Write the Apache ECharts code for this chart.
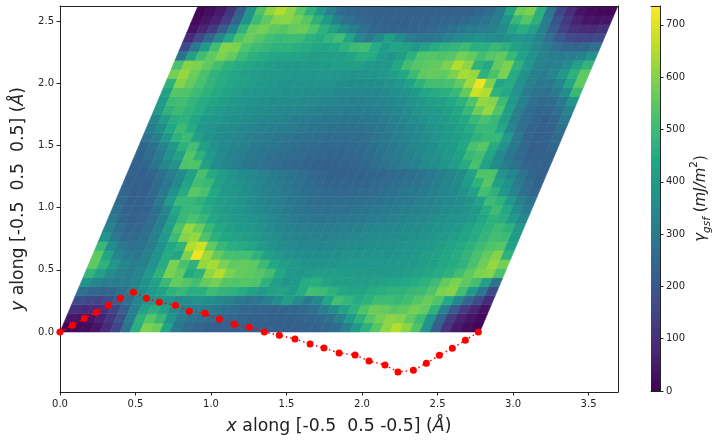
<!DOCTYPE html>
<html><head><meta charset="utf-8">
<style>html,body{margin:0;padding:0;background:#fff}#c{width:720px;height:445px}</style>
<script src="https://cdn.jsdelivr.net/npm/echarts@6/dist/echarts.min.js"></script>
</head><body><div id="c"></div>
<script>
// gamma_gsf energy; rows run along the first lattice vector, bottom row first
const r00=[10,15,20,40,90,150,280,460,590,570,430,300,260,235,225,220,220,225,225,225,225,225,222,225,228,232,240,262,320,390,470,540,610,650,610,530,380,220,110,50,25,10];
const r01=[40,35,40,70,120,190,310,470,540,490,380,310,280,265,255,245,240,235,232,230,228,228,230,232,240,255,275,320,400,470,540,580,610,600,550,500,380,240,130,70,40,15];
const r02=[100,85,85,105,150,220,320,420,460,420,350,320,310,305,295,275,260,250,240,235,230,235,240,250,270,310,360,420,470,530,570,560,540,550,580,560,470,320,210,125,75,35];
const r03=[170,155,150,170,210,270,330,370,385,370,350,360,370,360,345,325,300,285,285,310,360,410,350,300,340,430,510,480,450,470,500,500,490,510,540,565,530,440,340,240,165,90];
const r04=[270,245,235,245,270,310,350,390,420,470,490,460,460,500,480,470,450,420,390,420,430,400,450,510,500,470,440,430,430,450,460,470,470,490,500,530,590,600,510,400,290,170];
const r05=[370,330,310,305,310,330,370,420,490,560,540,510,560,580,540,530,540,530,470,410,380,400,450,460,430,410,410,405,410,420,425,430,440,450,470,500,560,590,550,510,420,280];
const r06=[480,420,360,325,315,330,390,470,590,560,440,470,610,650,590,560,550,540,510,440,390,385,395,410,410,405,400,400,395,395,395,400,410,420,435,450,470,510,550,590,600,520];
const r07=[550,470,390,335,310,320,370,450,590,520,470,620,640,590,550,560,550,500,440,410,390,380,375,375,380,385,385,385,385,385,385,390,395,405,420,435,450,475,520,570,620,580];
const r08=[550,430,340,300,295,320,370,450,430,590,715,630,560,520,510,510,470,420,390,375,365,360,360,360,365,370,375,375,375,375,380,385,395,405,420,435,455,480,520,560,600,470];
const r09=[490,360,300,270,280,310,370,440,470,650,680,560,490,460,450,430,400,375,360,350,340,335,335,340,345,355,360,365,365,365,370,375,385,395,410,425,445,470,500,530,540,420];
const r10=[380,300,260,255,275,320,390,500,600,620,530,470,440,420,410,395,375,355,340,330,325,320,320,325,330,340,345,350,355,355,360,365,370,385,395,410,430,450,480,510,500,400];
const r11=[330,265,240,240,265,320,410,530,620,570,490,440,415,400,390,375,355,340,325,315,310,305,305,310,315,320,330,335,340,345,350,355,365,375,385,400,420,450,475,500,470,390];
const r12=[300,245,225,235,265,320,410,490,520,490,440,415,400,385,370,355,335,320,305,295,290,285,285,290,295,300,310,315,325,330,340,345,355,365,375,385,400,430,470,460,400,340];
const r13=[270,230,220,235,270,340,440,490,490,450,420,400,385,370,350,335,320,305,290,280,270,270,270,275,280,285,290,300,305,315,320,330,340,350,360,370,395,450,500,440,360,305];
const r14=[255,225,220,240,300,400,490,490,470,430,405,395,380,360,340,325,310,295,280,268,260,258,258,260,265,270,278,285,295,300,310,320,335,345,360,375,420,500,470,390,320,280];
const r15=[240,220,220,250,300,370,450,545,520,440,400,385,365,345,330,315,300,285,272,260,252,248,248,250,255,260,268,275,285,295,305,320,335,345,375,420,510,470,390,330,275,240];
const r16=[232,222,225,255,295,345,430,510,490,420,390,375,355,335,320,305,290,275,262,250,243,238,238,240,245,252,258,265,275,285,298,315,330,350,400,470,540,420,370,305,260,232];
const r17=[232,228,240,270,310,360,420,520,450,405,380,360,345,325,310,295,280,265,250,240,233,230,230,232,238,245,252,260,270,282,295,315,335,360,420,530,530,380,340,285,245,228];
const r18=[228,245,285,340,380,530,530,420,360,335,315,295,282,270,260,252,245,238,232,230,230,233,240,250,265,280,295,310,325,345,360,380,405,450,520,420,360,310,270,240,228,232];
const r19=[232,260,305,370,420,540,470,400,350,330,315,298,285,275,265,258,252,245,240,238,238,243,250,262,275,290,305,320,335,355,375,390,420,490,510,430,345,295,255,225,222,232];
const r20=[240,275,330,390,470,510,420,375,345,335,320,305,295,285,275,268,260,255,250,248,248,252,260,272,285,300,315,330,345,365,385,400,440,520,545,450,370,300,250,220,220,240];
const r21=[280,320,390,470,500,420,375,360,345,335,320,310,300,295,285,278,270,265,260,258,258,260,268,280,295,310,325,340,360,380,395,405,430,470,490,490,400,300,240,220,225,255];
const r22=[305,360,440,500,450,395,370,360,350,340,330,320,315,305,300,290,285,280,275,270,270,270,280,290,305,320,335,350,370,385,400,420,450,490,490,440,340,270,235,220,230,270];
const r23=[340,400,460,470,430,400,385,375,365,355,345,340,330,325,315,310,300,295,290,285,285,290,295,305,320,335,355,370,385,400,415,440,490,520,490,410,320,265,235,225,245,300];
const r24=[390,470,500,475,450,420,400,385,375,365,355,350,345,340,335,330,320,315,310,305,305,310,315,325,340,355,375,390,400,415,440,490,570,620,530,410,320,265,240,240,265,330];
const r25=[400,500,510,480,450,430,410,395,385,370,365,360,355,355,350,345,340,330,325,320,320,325,330,340,355,375,395,410,420,440,470,530,620,600,500,390,320,275,255,260,300,380];
const r26=[420,540,530,500,470,445,425,410,395,385,375,370,365,365,365,360,355,345,340,335,335,340,350,360,375,400,430,450,460,490,560,680,650,470,440,370,310,280,270,300,360,490];
const r27=[470,600,560,520,480,455,435,420,405,395,385,380,375,375,375,375,370,365,360,360,360,365,375,390,420,470,510,510,520,560,630,715,590,430,450,370,320,295,300,340,430,550];
const r28=[580,620,570,520,475,450,435,420,405,395,390,385,385,385,385,385,385,380,375,375,380,390,410,440,500,550,560,550,590,640,620,470,520,590,450,370,320,310,335,390,470,550];
const r29=[520,600,590,550,510,470,450,435,420,410,400,395,395,395,400,400,405,410,410,395,385,390,440,510,540,550,560,590,650,610,470,440,560,590,470,390,330,315,325,360,420,480];
const r30=[280,420,510,550,590,560,500,470,450,440,430,425,420,410,405,410,410,430,460,450,400,380,410,470,530,540,530,540,580,560,510,540,560,490,420,370,330,310,305,310,330,370];
const r31=[170,290,400,510,600,590,530,500,490,470,470,460,450,430,430,440,470,500,510,450,400,430,420,390,420,450,470,480,500,460,460,490,470,420,390,350,310,270,245,235,245,270];
const r32=[90,165,240,340,440,530,565,540,510,490,500,500,470,450,480,510,430,340,300,350,410,360,310,285,285,300,325,345,360,370,360,350,370,385,370,330,270,210,170,150,155,170];
const r33=[35,75,125,210,320,470,560,580,550,540,560,570,530,470,420,360,310,270,250,240,235,230,235,240,250,260,275,295,305,310,320,350,420,460,420,320,220,150,105,85,85,100];
const r34=[15,40,70,130,240,380,500,550,600,610,580,540,470,400,320,275,255,240,232,230,228,228,230,232,235,240,245,255,265,280,310,380,490,540,470,310,190,120,70,40,35,40];
const r35=[10,25,50,110,220,380,530,610,650,610,540,470,390,320,262,240,232,228,225,222,225,225,225,225,225,220,220,225,235,260,300,430,570,590,460,280,150,90,40,20,15,10];
const rows=[r00,r01,r02,r03,r04,r05,r06,r07,r08,r09,r10,r11,r12,r13,r14,r15,r16,r17,r18,r19,r20,r21,r22,r23,r24,r25,r26,r27,r28,r29,r30,r31,r32,r33,r34,r35];

// lattice vectors of the sheared cell, in Angstrom
const vecA=[2.78,0];
const vecB=[0.914,2.623];

// minimum energy path
const pathX=[0,.082,.161,.24,.32,.40,.486,.572,.658,.764,.856,.962,1.055,1.154,1.254,1.353,1.452,1.556,1.656,1.748,1.848,1.954,2.046,2.152,2.238,2.34,2.426,2.512,2.598,2.684,2.77];
const pathY=[0,.054,.11,.158,.215,.271,.319,.271,.239,.215,.167,.15,.102,.062,.038,0,-.027,-.056,-.097,-.129,-.169,-.185,-.233,-.265,-.322,-.308,-.252,-.187,-.131,-.067,0];

const xTicks=[0,0.5,1,1.5,2,2.5,3,3.5];
const yTicks=[0,0.5,1,1.5,2,2.5];
const cbarTicks=[0,100,200,300,400,500,600,700];
const cbarMax=736;
const viridis=['#440154','#482576','#414487','#355f8d','#2a788e','#21918c','#22a884','#44bf70','#7ad151','#bddf26','#fde725'];

const cellData=[];
rows.forEach((r,j)=>r.forEach((val,i)=>cellData.push([i,j,val])));
const pathData=pathX.map((x,k)=>[x,pathY[k]]);

const FF='DejaVu Sans', TXT='#222', AX={color:TXT,width:1};
function corner(api,u,v){
  const nu=rows[0].length,nv=rows.length;
  return api.coord([vecA[0]*u/nu+vecB[0]*v/nv, vecA[1]*u/nu+vecB[1]*v/nv]);
}
const chart=echarts.init(document.getElementById('c'),null,{renderer:'canvas'});
chart.setOption({
  animation:false,
  backgroundColor:'#fff',
  textStyle:{fontFamily:FF},
  grid:[
    {left:60,top:6,width:558,height:386},
    {left:651,top:6,width:9,height:385}
  ],
  visualMap:{show:false,type:'continuous',min:0,max:cbarMax,seriesIndex:0,dimension:2,inRange:{color:viridis}},
  xAxis:[
    {type:'value',gridIndex:0,min:0,max:3.695,position:'bottom',z:10,
     axisLine:{show:true,onZero:false,lineStyle:AX},
     axisTick:{show:true,length:3.5,lineStyle:AX,customValues:xTicks},
     axisLabel:{fontSize:10,color:TXT,fontFamily:FF,margin:7,customValues:xTicks,formatter:v=>v.toFixed(1),showMinLabel:true,showMaxLabel:true},
     splitLine:{show:false},
     nameLocation:'middle',nameGap:26,
     name:'{i|x} along [-0.5  0.5 -0.5] ({i|Å})',
     nameTextStyle:{fontSize:17.3,color:TXT,fontFamily:FF,rich:{i:{fontSize:17.3,fontStyle:'italic',color:TXT,fontFamily:FF}}}},
    {type:'value',gridIndex:0,min:0,max:3.695,position:'top',z:10,
     axisLine:{show:true,onZero:false,lineStyle:AX},axisTick:{show:false},axisLabel:{show:false},splitLine:{show:false}},
    {type:'value',gridIndex:1,min:0,max:1,position:'bottom',z:10,
     axisLine:{show:true,onZero:false,lineStyle:AX},axisTick:{show:false},axisLabel:{show:false},splitLine:{show:false}},
    {type:'value',gridIndex:1,min:0,max:1,position:'top',z:10,
     axisLine:{show:true,onZero:false,lineStyle:AX},axisTick:{show:false},axisLabel:{show:false},splitLine:{show:false}}
  ],
  yAxis:[
    {type:'value',gridIndex:0,min:-0.483,max:2.623,position:'left',z:10,
     axisLine:{show:true,onZero:false,lineStyle:AX},
     axisTick:{show:true,length:3.5,lineStyle:AX,customValues:yTicks},
     axisLabel:{fontSize:10,color:TXT,fontFamily:FF,margin:6,customValues:yTicks,formatter:v=>v.toFixed(1)},
     splitLine:{show:false},
     nameLocation:'middle',nameGap:25,nameRotate:90,
     name:'{i|y} along [-0.5  0.5  0.5] ({i|Å})',
     nameTextStyle:{fontSize:17.3,color:TXT,fontFamily:FF,rich:{i:{fontSize:17.3,fontStyle:'italic',color:TXT,fontFamily:FF}}}},
    {type:'value',gridIndex:0,min:-0.483,max:2.623,position:'right',z:10,
     axisLine:{show:true,onZero:false,lineStyle:AX},axisTick:{show:false},axisLabel:{show:false},splitLine:{show:false}},
    {type:'value',gridIndex:1,min:0,max:cbarMax,position:'right',z:10,
     axisLine:{show:true,onZero:false,lineStyle:AX},
     axisTick:{show:true,length:3.5,lineStyle:AX,customValues:cbarTicks},
     axisLabel:{fontSize:10,color:TXT,fontFamily:FF,margin:6,customValues:cbarTicks},
     splitLine:{show:false},
     nameLocation:'middle',nameGap:29,nameRotate:90,
     name:'{g|γ}{s|gsf}{n| (}{g|mJ/m}{p|2}{n|)}',
     nameTextStyle:{fontSize:15,color:TXT,fontFamily:FF,rich:{
       g:{fontSize:15,lineHeight:24,fontStyle:'italic',color:TXT,fontFamily:FF},
       s:{fontSize:10.5,lineHeight:12,fontStyle:'italic',color:TXT,fontFamily:FF,verticalAlign:'bottom'},
       n:{fontSize:15,lineHeight:24,color:TXT,fontFamily:FF},
       p:{fontSize:10.5,lineHeight:12,color:TXT,fontFamily:FF,verticalAlign:'top'}
     }}}
  ],
  series:[
    {type:'custom',coordinateSystem:'cartesian2d',xAxisIndex:0,yAxisIndex:0,z:2,clip:true,
     encode:{x:0,y:1},
     data:cellData,
     renderItem(params,api){
       const i=api.value(0),j=api.value(1),col=api.visual('color');
       return {type:'polygon',shape:{points:[corner(api,i,j),corner(api,i+1,j),corner(api,i+1,j+1),corner(api,i,j+1)]},
               style:{fill:col,stroke:col,lineWidth:0.6}};
     }},
    {type:'custom',coordinateSystem:'cartesian2d',xAxisIndex:2,yAxisIndex:2,z:2,
     encode:{x:0,y:1},
     data:[[0,0]],
     renderItem(params,api){
       const a=api.coord([0,0]),b=api.coord([1,cbarMax]);
       const stops=viridis.map((c,k)=>({offset:k/(viridis.length-1),color:c}));
       return {type:'rect',shape:{x:a[0],y:b[1],width:b[0]-a[0],height:a[1]-b[1]},
               style:{fill:new echarts.graphic.LinearGradient(0,1,0,0,stops)}};
     }},
    {type:'line',xAxisIndex:0,yAxisIndex:0,z:20,clip:false,data:pathData,
     symbol:'circle',symbolSize:7,showSymbol:true,
     lineStyle:{color:'#ff0000',width:1.5,type:[1.5,3]},
     itemStyle:{color:'#ff0000'}}
  ]
});
</script></body></html>
